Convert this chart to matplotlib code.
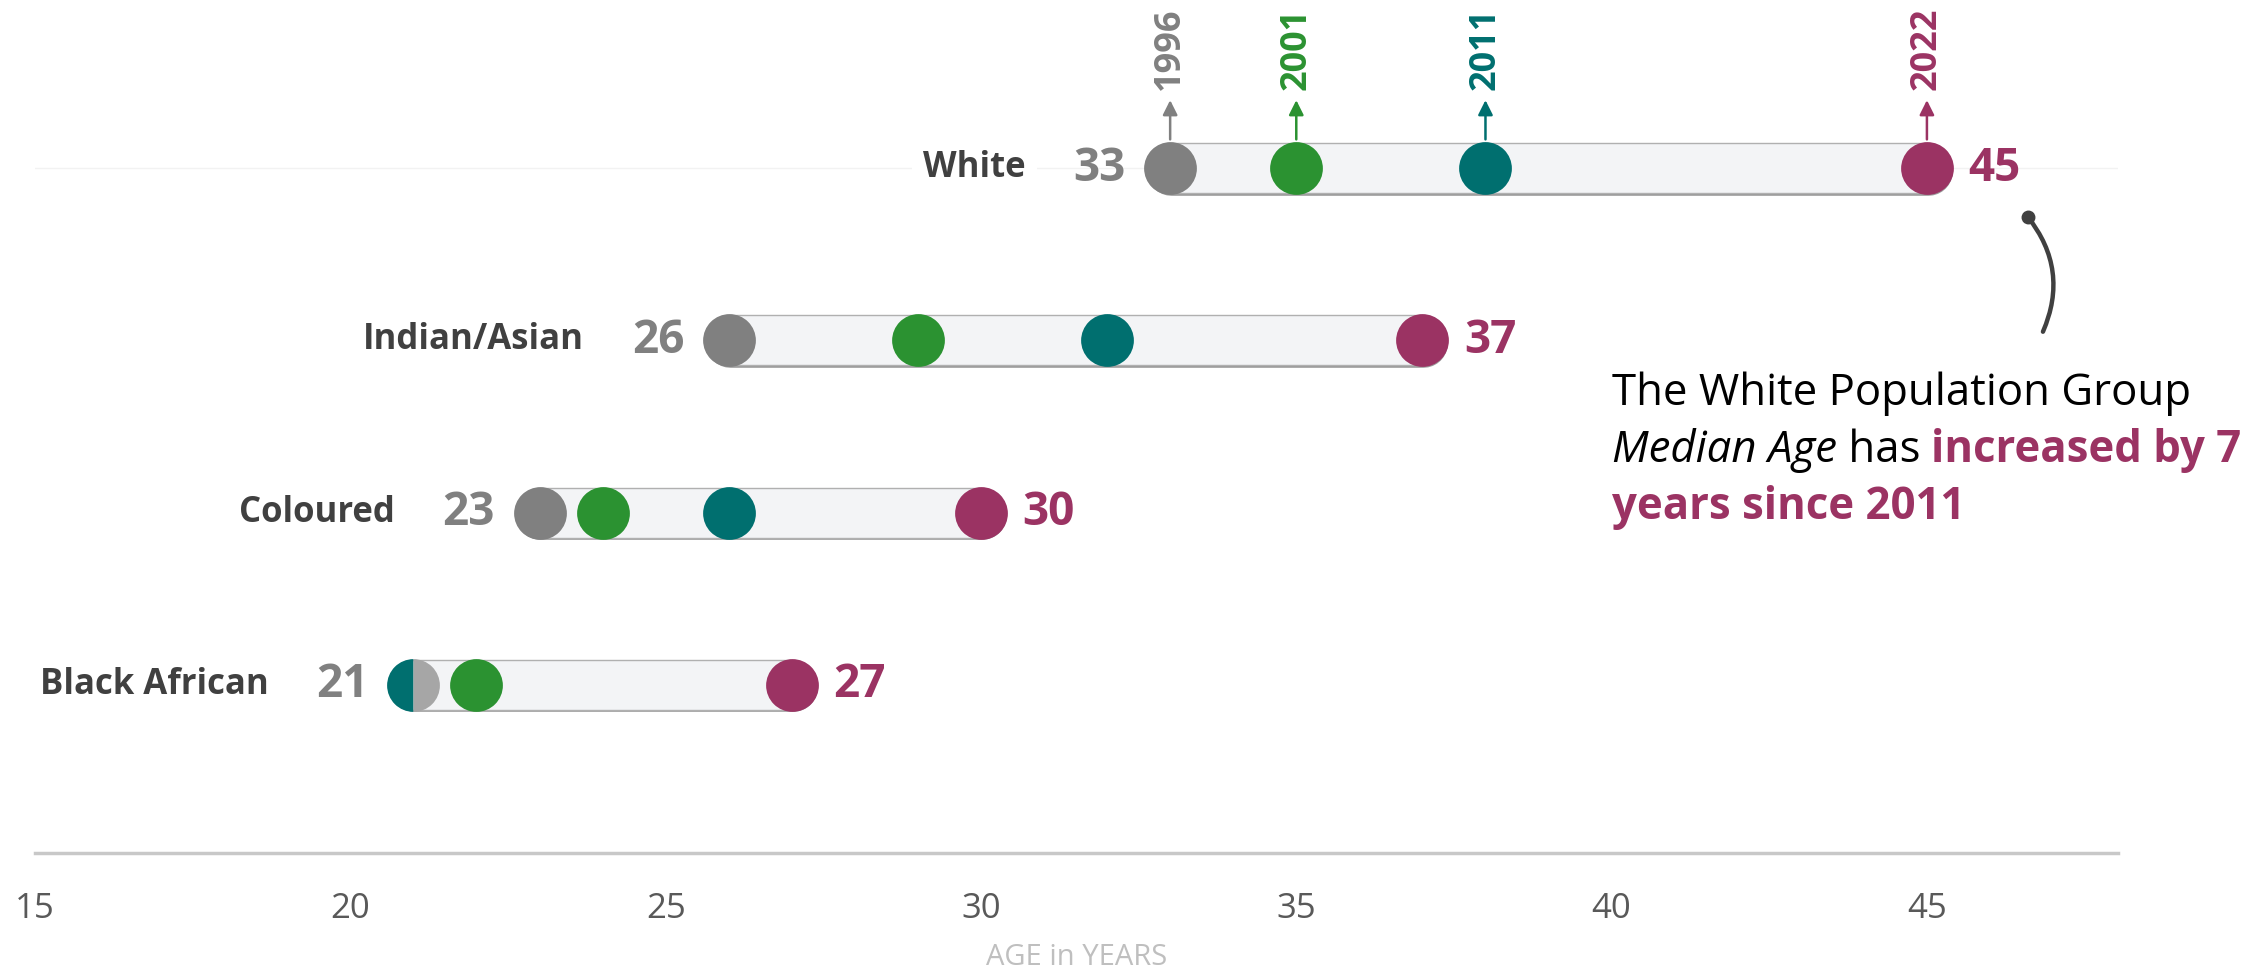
import numpy as np
import matplotlib.pyplot as plt
import matplotlib.patheffects as pe

# median age by population group, census years
groups = ['Black African', 'Coloured', 'Indian/Asian', 'White']
years = ['1996', '2001', '2011', '2022']
age_1996 = [21, 23, 26, 33]
age_2001 = [22, 24, 29, 35]
age_2011 = [21, 26, 32, 38]
age_2022 = [27, 30, 37, 45]
xticks = [15, 20, 25, 30, 35, 40, 45]

colors = ['#808080', '#2B9231', '#006F6F', '#9B3363']
gray_alt = '#A6A6A6'
dark = '#404040'

plt.rcParams['font.family'] = ['Open Sans', 'DejaVu Sans']

fig = plt.figure(figsize=(22.67, 9.75), dpi=100)
ax = fig.add_axes([35 / 2267, 1 - 853 / 975, (2118 - 35) / 2267, 853 / 975])
ax.set_xlim(15, 48.03)
ax.set_ylim(-0.975, 3.975)

ages = np.array([age_1996, age_2001, age_2011, age_2022])

ax.axhline(3, color='#F2F2F2', lw=1, zorder=0)

for i, g in enumerate(groups):
    vals = ages[:, i]
    # capsule behind the dots
    ax.plot([vals.min(), vals.max()], [i, i], lw=35, color='#F3F4F6',
            solid_capstyle='round', zorder=1,
            path_effects=[pe.SimpleLineShadow(offset=(0.6, -1.8), shadow_color='#707070', alpha=0.7),
                          pe.Stroke(linewidth=37, foreground='#B0B0B0'),
                          pe.Normal()])
    drawn = set()
    for k in range(len(years)):
        if k in drawn:
            continue
        same = [j for j in range(len(years)) if j != k and vals[j] == vals[k]]
        if same:
            j = same[0]
            ax.plot(vals[k], i, 'o', ms=38, fillstyle='left', markeredgewidth=0,
                    markerfacecolor=colors[j], markerfacecoloralt=gray_alt, zorder=3)
            drawn.update([k, j])
        else:
            ax.plot(vals[k], i, 'o', ms=38, markeredgewidth=0, color=colors[k], zorder=3)
            drawn.add(k)

    ax.annotate(str(vals[0]), xy=(vals[0], i), xytext=(-32, 0), textcoords='offset points',
                ha='right', va='center', fontsize=33, fontweight='bold', color=colors[0])
    ax.annotate(str(vals[-1]), xy=(vals[-1], i), xytext=(30, 0), textcoords='offset points',
                ha='left', va='center', fontsize=33, fontweight='bold', color=colors[3])
    lab = ax.annotate(g, xy=(vals[0], i), xytext=(-104, 0), textcoords='offset points',
                      ha='right', va='center', fontsize=25, fontweight='bold', color=dark)
    if g == 'White':
        lab.set_bbox(dict(facecolor='white', edgecolor='none', pad=8))

# year markers above the top row
top = len(groups) - 1
for k, yr in enumerate(years):
    v = ages[k, top]
    ax.annotate('', xy=(v, 3.41), xytext=(v, 3.15),
                arrowprops=dict(arrowstyle='-|>', color=colors[k], lw=1.8, mutation_scale=22),
                zorder=2)
    ax.text(v, 3.45, yr, rotation=90, ha='center', va='bottom', fontsize=26,
            fontweight='bold', color=colors[k])

# callout
ax.annotate('', xy=(46.84, 2.05), xytext=(46.6, 2.716),
            arrowprops=dict(arrowstyle='-', color=dark, lw=3.2,
                            connectionstyle='arc3,rad=-0.3', shrinkA=0, shrinkB=0))
ax.plot(46.6, 2.716, 'o', ms=9, color=dark)

fs = 31.5
t1 = ax.text(40.0, 1.56, 'The White Population Group', fontsize=fs, color='black', va='bottom')
t2 = ax.text(40.0, 1.23, 'Median Age', fontsize=fs, style='italic', color='black', va='bottom')
t3 = ax.annotate(' has ', xy=(1, 0), xycoords=t2, fontsize=fs, color='black', va='bottom')
t4 = ax.annotate('increased by 7', xy=(1, 0), xycoords=t3, fontsize=fs, fontweight='bold',
                 color=colors[3], va='bottom')
t5 = ax.text(40.0, 0.9, 'years since 2011', fontsize=fs, fontweight='bold',
             color=colors[3], va='bottom')

# axis styling
for s in ['top', 'right', 'left']:
    ax.spines[s].set_visible(False)
ax.spines['bottom'].set_color('#C8C8C8')
ax.spines['bottom'].set_linewidth(2.5)
ax.set_yticks([])
ax.set_xticks(xticks)
ax.tick_params(axis='x', length=0, pad=28, labelsize=25, labelcolor='#595959')
ax.set_xlabel('AGE in YEARS', fontsize=21, color='#BFBFBF', labelpad=12)

fig.savefig('out.png', dpi=100)
